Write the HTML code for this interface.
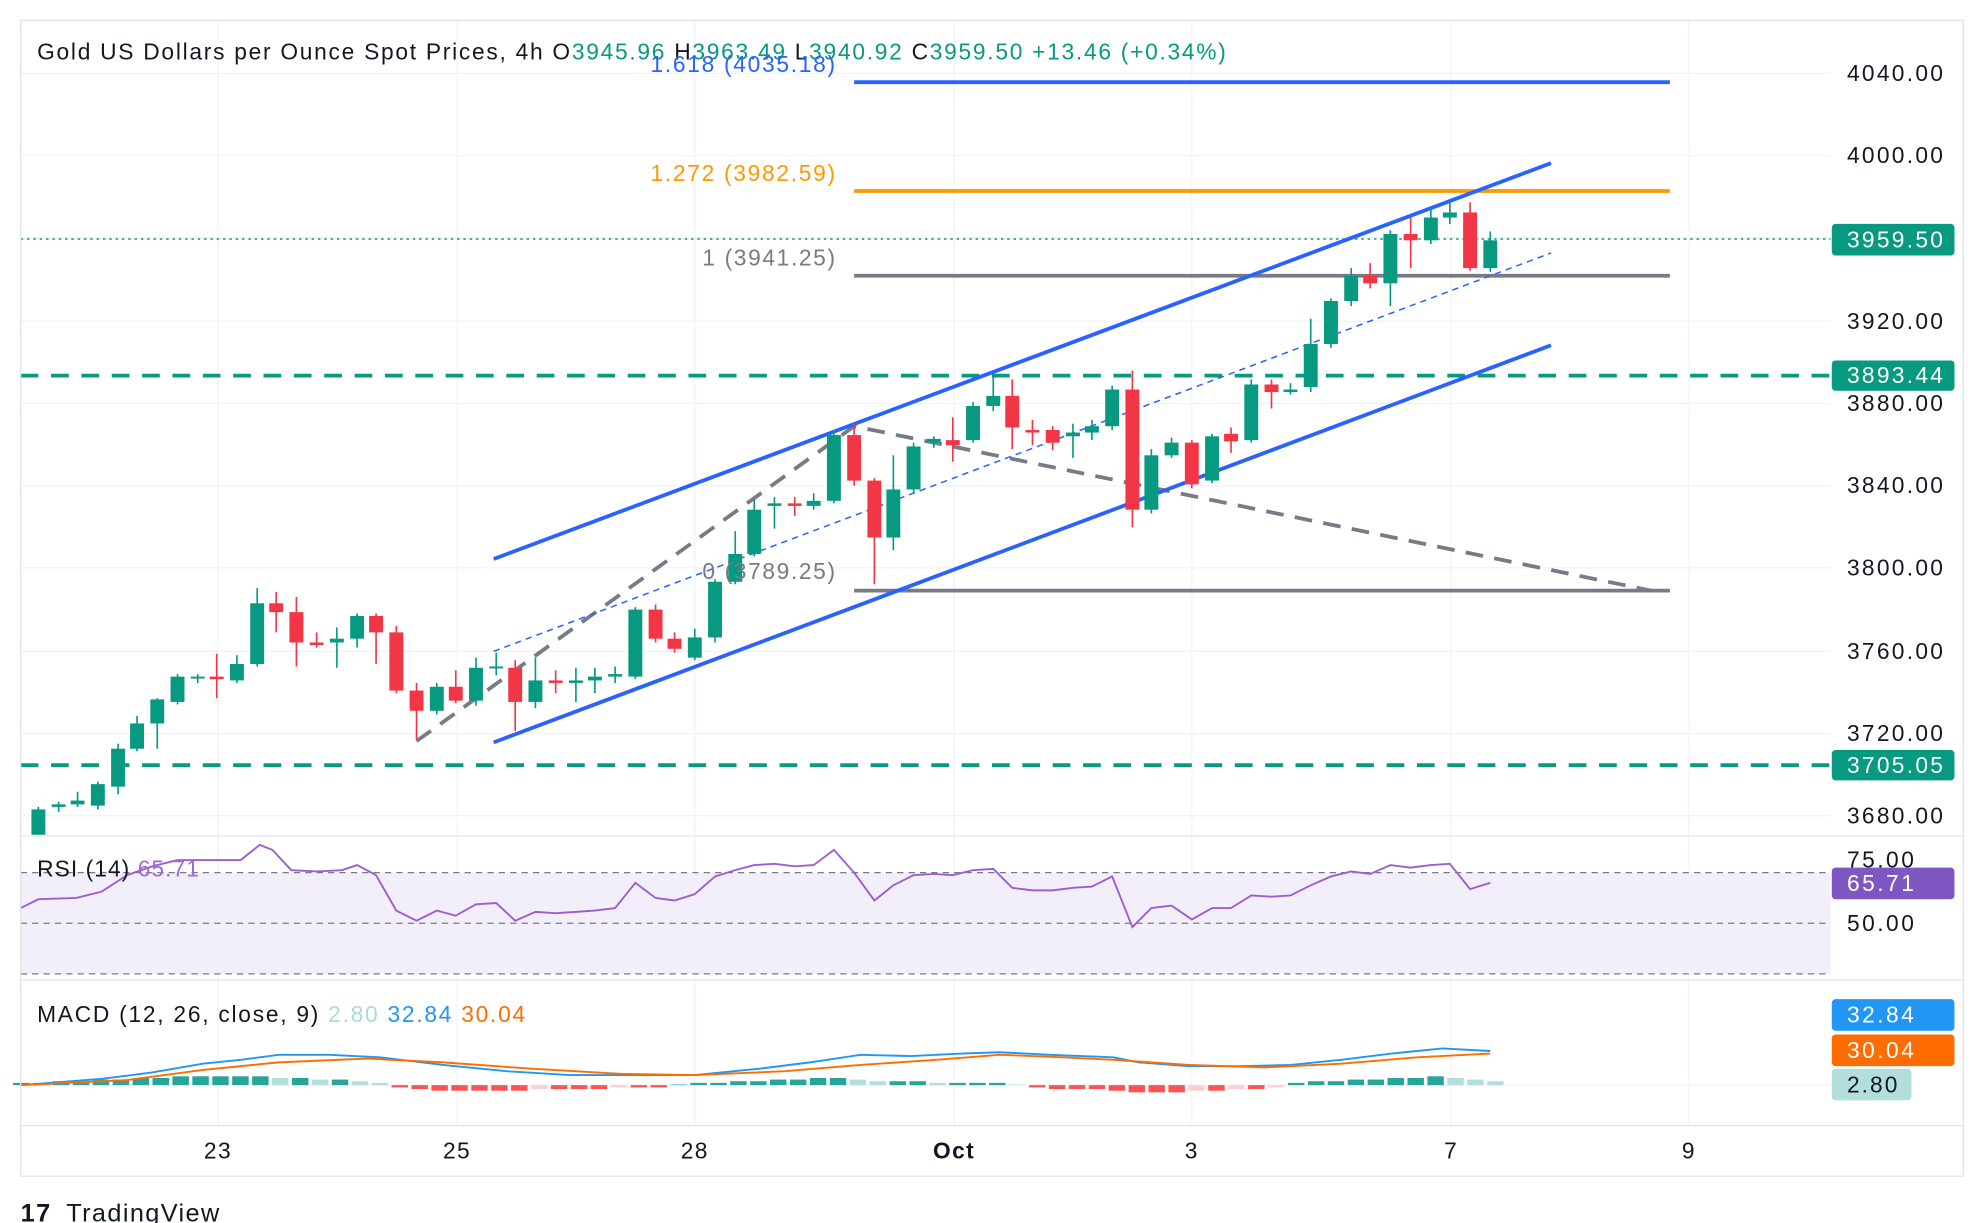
<!DOCTYPE html>
<html><head><meta charset="utf-8"><style>
html,body{margin:0;padding:0;background:#fff;}
svg{display:block;font-family:"Liberation Sans",sans-serif;}
svg text{letter-spacing:1.1px;}
</style></head><body>
<svg id="s" width="1984" height="1223" viewBox="0 0 1568 967" xmlns="http://www.w3.org/2000/svg">
<rect width="1568" height="967" fill="#fff"/>
<g id="grid" stroke="#f0f3fa" stroke-width="1"></g>
<rect x="16" y="690" width="1431" height="80" fill="#f3effa"/>
<g id="main"></g>
<rect x="16" y="16" width="1536" height="914" fill="none" stroke="#e0e3eb" stroke-width="1"/>
<line x1="16" y1="661" x2="1552" y2="661" stroke="#e0e3eb"/>
<line x1="16" y1="775" x2="1552" y2="775" stroke="#e0e3eb"/>
<line x1="16" y1="890" x2="1552" y2="890" stroke="#e0e3eb"/>
<g font-size="18" fill="#131722">
<text x="29" y="47" textLength="941" lengthAdjust="spacing">Gold US Dollars per Ounce Spot Prices, 4h  <tspan>O</tspan><tspan fill="#089981">3945.96</tspan>  <tspan>H</tspan><tspan fill="#089981">3963.49</tspan>  <tspan>L</tspan><tspan fill="#089981">3940.92</tspan>  <tspan>C</tspan><tspan fill="#089981">3959.50</tspan>  <tspan fill="#089981">+13.46 (+0.34%)</tspan></text>
<text x="514" y="57" textLength="147" lengthAdjust="spacing" fill="#2962ff">1.618 (4035.18)</text>
<text x="514" y="143" textLength="147" lengthAdjust="spacing" fill="#ff9800">1.272 (3982.59)</text>
<text x="555" y="210" textLength="106" lengthAdjust="spacing" fill="#787b86">1 (3941.25)</text>
<text x="555" y="458" textLength="106" lengthAdjust="spacing" fill="#787b86">0 (3789.25)</text>
<text x="29" y="693" textLength="129" lengthAdjust="spacing">RSI (14) <tspan fill="#9c6ade">65.71</tspan></text>
<text x="29" y="808" textLength="387" lengthAdjust="spacing">MACD (12, 26, close, 9)  <tspan fill="#a7dcd2">2.80</tspan>  <tspan fill="#2196f3">32.84</tspan>  <tspan fill="#ff6d00">30.04</tspan></text>
</g>
<g font-size="18" fill="#131722" id="axis"></g>
<g font-size="18" fill="#131722" text-anchor="middle">
<text x="172" y="916">23</text><text x="361" y="916">25</text><text x="549" y="916">28</text>
<text x="754" y="916" font-weight="bold">Oct</text><text x="942" y="916">3</text><text x="1147" y="916">7</text><text x="1335" y="916">9</text>
</g>
<text x="16" y="966" font-size="20" fill="#131722" font-weight="bold">17</text>
<text x="52" y="966" font-size="20" fill="#131722">TradingView</text>
</svg>
<script>
const NS="http://www.w3.org/2000/svg";
function el(p,t,a,txt){const e=document.createElementNS(NS,t);for(const k in a)e.setAttribute(k,a[k]);if(txt!==undefined)e.textContent=txt;p.appendChild(e);return e;}
const g=document.getElementById('grid');
[58,123,188,254,319,384,449,515,580,645].forEach(y=>el(g,'line',{x1:16,y1:y,x2:1447,y2:y}));
[172,361,549,754,942,1147,1335].forEach(x=>el(g,'line',{x1:x,y1:16,x2:x,y2:890}));
const m=document.getElementById('main');
const G="#089981",R="#f23645";
el(m,'line',{x1:16,y1:297,x2:1447,y2:297,stroke:G,'stroke-width':3,'stroke-dasharray':'14 10'});
el(m,'line',{x1:16,y1:605,x2:1447,y2:605,stroke:G,'stroke-width':3,'stroke-dasharray':'14 10'});
el(m,'line',{x1:16,y1:189,x2:1447,y2:189,stroke:G,'stroke-width':1.2,'stroke-dasharray':'2 3'});
el(m,'line',{x1:675,y1:65,x2:1320,y2:65,stroke:'#2962ff','stroke-width':3});
el(m,'line',{x1:675,y1:151,x2:1320,y2:151,stroke:'#ff9800','stroke-width':3});
el(m,'line',{x1:675,y1:218,x2:1320,y2:218,stroke:'#787b86','stroke-width':3});
el(m,'line',{x1:675,y1:467,x2:1320,y2:467,stroke:'#787b86','stroke-width':3});
el(m,'polyline',{points:'329,586 675,337 1305,467',fill:'none',stroke:'#787b86','stroke-width':3,'stroke-dasharray':'14 9'});
el(m,'line',{x1:390,y1:442,x2:1226,y2:129,stroke:'#2962ff','stroke-width':3});
el(m,'line',{x1:390,y1:587,x2:1226,y2:273,stroke:'#2962ff','stroke-width':3});
el(m,'line',{x1:390,y1:515,x2:1226,y2:200,stroke:'#2962ff','stroke-width':1.2,'stroke-dasharray':'5 4'});
const C=[[30,660,640,638,660],[46,638,636,634,642],[61,636,633,626,638],[77,637,620,618,640],[93,622,592,588,628],[108,592,572,566,594],[124,572,553,552,592],[140,555,535,533,557],[156,536,535,533,540],[171,535,537,517,552],[187,538,525,518,540],[203,525,477,465,527],[218,477,484,468,500],[234,484,508,472,527],[250,508,510,500,512],[266,508,505,496,528],[282,505,487,485,512],[297,487,500,485,525],[313,500,546,495,548],[329,546,562,540,585],[345,562,543,540,565],[360,543,554,530,556],[376,554,528,520,558],[392,528,527,516,534],[407,528,555,522,578],[423,555,538,520,560],[439,538,540,530,548],[455,540,538,528,555],[470,538,535,528,548],[486,535,533,527,540],[502,535,482,480,537],[518,482,505,478,508],[533,505,513,500,516],[549,520,504,497,522],[565,504,460,458,508],[581,460,438,420,462],[596,438,403,395,440],[612,400,398,393,418],[628,398,400,393,408],[643,400,396,390,403],[659,396,344,340,398],[675,344,380,335,384],[691,380,425,378,462],[706,425,387,360,435],[722,387,353,350,390],[738,350,347,345,354],[753,348,352,330,365],[769,348,321,318,350],[785,321,313,296,325],[800,313,338,300,355],[816,340,342,332,352],[832,340,350,337,356],[848,345,342,335,362],[863,342,337,332,348],[879,337,308,305,340],[895,308,403,293,417],[910,403,360,355,406],[926,360,350,346,362],[942,350,383,348,386],[958,380,345,343,382],[973,343,349,338,358],[989,348,304,300,350],[1005,304,310,300,323],[1020,310,308,303,312],[1036,306,272,252,310],[1052,272,238,236,275],[1068,238,218,212,242],[1083,218,224,208,228],[1099,224,185,182,242],[1115,185,190,172,212],[1131,190,172,165,193],[1146,172,168,160,177],[1162,168,212,160,214],[1178,212,190,183,215]];
C.forEach(([x,o,c,h,l])=>{const col=c<=o?G:R;el(m,'line',{x1:x,y1:h,x2:x,y2:l,stroke:col,'stroke-width':1.3});const t=Math.min(o,c),b=Math.max(o,c);el(m,'rect',{x:x-5.5,y:t,width:11,height:Math.max(1.5,b-t),fill:col});});
el(m,'line',{x1:16,y1:690,x2:1447,y2:690,stroke:'#787b86','stroke-dasharray':'5 4'});
el(m,'line',{x1:16,y1:730,x2:1447,y2:730,stroke:'#787b86','stroke-dasharray':'5 4'});
el(m,'line',{x1:16,y1:770,x2:1447,y2:770,stroke:'#787b86','stroke-dasharray':'5 4'});
el(m,'polyline',{points:'16,718 30,711 60,710 80,705 100,692 120,685 140,680 160,680 190,680 205,668 215,672 230,688 250,689 270,688 282,684 297,692 313,720 329,728 345,720 360,724 376,715 392,714 407,728 423,721 439,722 455,721 470,720 486,718 502,698 518,710 533,712 549,707 565,693 581,688 596,684 612,683 628,685 643,684 659,672 675,690 691,712 706,700 722,692 738,691 753,692 769,688 785,687 800,702 816,704 832,704 848,702 863,701 879,693 895,733 910,718 926,716 942,727 958,718 973,718 989,708 1005,709 1020,708 1036,700 1052,693 1068,689 1083,691 1099,684 1115,686 1131,684 1146,683 1162,703 1178,698',fill:'none',stroke:'#9c5fd0','stroke-width':1.5});
el(m,'line',{x1:16,y1:858,x2:1447,y2:858,stroke:'#f0f3fa'});
const H=[1,1,2,2,3,3,4,4,5,5,5,5,5,4,4,3,3,2,1,-1,-2,-3,-3,-3,-3,-3,-2,-2,-2,-2,-1,-1,-1,0,1,1,2,2,3,3,4,4,3,2,2,2,1,1,1,1,0,-1,-2,-2,-2,-3,-4,-4,-4,-3,-3,-2,-2,-1,1,2,2,3,3,4,4,5,4,3,2];
H.forEach((v,i)=>{const x=16+i*15.75;const prev=i?H[i-1]:0;let col;if(v>=0)col=v>=prev?'#26a69a':'#b2dfdb';else col=v<=prev?'#ff5252':'#ffcdd2';const hgt=Math.abs(v)*1.3+0.5;el(m,'rect',{x:x-6,y:v>=0?858-hgt:858,width:13,height:hgt,fill:col});});
el(m,'polyline',{points:'16,858 80,853 120,848 160,841 190,838 220,834 260,834 300,836 350,842 400,847 450,850 500,850 549,850 600,845 640,840 680,834 720,835 760,833 790,832 830,834 880,836 900,840 940,843 980,843 1020,842 1060,838 1100,833 1140,829 1178,831',fill:'none',stroke:'#2196f3','stroke-width':1.5});
el(m,'polyline',{points:'16,858 100,854 160,846 220,840 290,837 350,840 420,845 490,849 549,850 620,847 680,842 740,838 790,834 840,836 880,838 940,842 1000,844 1060,841 1120,836 1178,833',fill:'none',stroke:'#ff6d00','stroke-width':1.5});
const a=document.getElementById('axis');
function t(x,y,s,w,fill){const e=el(a,'text',{x:x,y:y,textLength:w,lengthAdjust:'spacing'},s);if(fill)e.setAttribute('fill',fill);return e;}
[[64,'4040.00'],[129,'4000.00'],[260,'3920.00'],[325,'3880.00'],[390,'3840.00'],[455,'3800.00'],[521,'3760.00'],[586,'3720.00'],[651,'3680.00']].forEach(([y,s])=>t(1460,y,s,77));
t(1460,686,'75.00',54);t(1460,736,'50.00',54);
function box(y,h,fill,s,tc,w){el(a,'rect',{x:1448,y:y,width:w||97,height:h,rx:3,fill:fill});t(1460,y+h/2+6,s,s.length>5?77:54,tc||'#fff');}
box(177,25,G,'3959.50');box(285,24,G,'3893.44');box(593,24,G,'3705.05');
box(686,25,'#7e57c2','65.71');
box(790,25,'#2196f3','32.84');box(818,25,'#ff6d00','30.04');
el(a,'rect',{x:1448,y:845,width:63,height:25,rx:3,fill:'#b2dfdb'});t(1460,864,'2.80',41,'#131722');
</script>
</body></html>
